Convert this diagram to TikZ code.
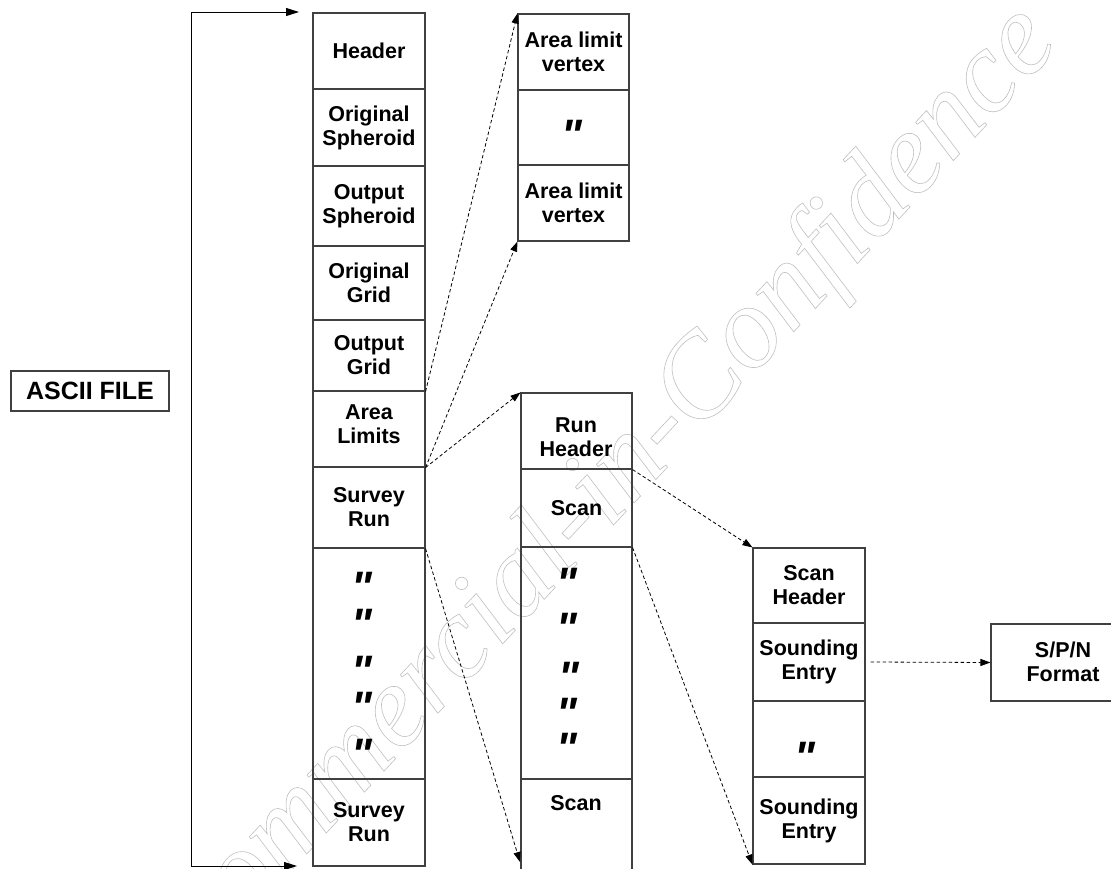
\documentclass[tikz,border=0pt]{standalone}
\usepackage{fontspec}
\setmainfont{Liberation Sans}
\newfontfamily\dittofont{Liberation Sans}
\newfontfamily\wmfont{Liberation Serif}
\usetikzlibrary{arrows.meta}
\tikzset{
  cellbox/.style={draw=black!75, line width=1.1pt, inner sep=0pt, align=center,
    font=\bfseries\fontsize{21.5}{24}\selectfont},
  lbl/.style={inner sep=0pt, align=center, font=\bfseries\fontsize{21.5}{24}\selectfont},
  dittomark/.style={inner sep=0pt, font=\dittofont\bfseries\itshape\fontsize{44}{44}\selectfont},
  dasharrow/.style={draw, line width=0.8pt, dash pattern=on 3.5pt off 2.5pt,
    -{Triangle[length=10pt,width=7pt]}},
  bracketline/.style={draw, line width=1pt,
    {Triangle[length=13pt,width=8pt]}-{Triangle[length=13pt,width=8pt]}},
  watermark/.style={inner sep=0pt, text=black!25, font=\wmfont\itshape\fontsize{117}{117}\selectfont}
}
% \mkcell{name}{x1}{y1}{x2}{y2}{text}
\newcommand\mkcell[6]{%
  \node[cellbox, minimum width={(#4-#2)*1pt}, minimum height={(#5-#3)*1pt}]
    (#1) at ({(#2+#4)/2},{(#3+#5)/2}) {#6};}
\begin{document}
\begin{tikzpicture}[x=1pt,y=-1pt]
\useasboundingbox (0,0) rectangle (1111,868);

% watermark
\node[watermark, rotate=47] (wm) at (605,492)
  {\special{pdf:literal direct 1 Tr 0.6 w}Commercial-in-Confidence\special{pdf:literal direct 0 Tr}};

% ASCII FILE
\node[cellbox, minimum width=158pt, minimum height=40pt,
  font=\bfseries\fontsize{25}{28}\selectfont] (ascii) at (90,391) {ASCII FILE};

% main column
\mkcell{header}{313}{13}{425}{89}{Header}
\mkcell{origsph}{313}{89}{425}{166}{Original\\Spheroid}
\mkcell{outsph}{313}{166}{425}{246}{Output\\Spheroid}
\mkcell{origgrid}{313}{246}{425}{320}{Original\\Grid}
\mkcell{outgrid}{313}{320}{425}{391}{Output\\Grid}
\mkcell{area}{313}{391}{425}{467}{}
\node[lbl] (areat) at (369,424) {Area\\Limits};
\mkcell{survey}{313}{467}{425}{548}{Survey\\Run}
\mkcell{mainditto}{313}{548}{425}{779}{}
\mkcell{surveyb}{313}{779}{425}{866}{Survey\\Run}
\node[dittomark] (md1) at (362,587) {"};
\node[dittomark] (md2) at (362,624) {"};
\node[dittomark] (md3) at (362,671) {"};
\node[dittomark] (md4) at (362,707) {"};
\node[dittomark] (md5) at (362,754) {"};

% area limit column
\mkcell{alv}{518}{14}{629}{90}{Area limit\\vertex}
\mkcell{alvd}{518}{90}{629}{165}{}
\mkcell{alvb}{518}{165}{629}{241}{Area limit\\vertex}
\node[dittomark] (ad1) at (572,135) {"};

% run column
\mkcell{runhdr}{521}{393}{632}{469}{}
\node[lbl] (runhdrt) at (576,437) {Run\\Header};
\mkcell{scan}{521}{469}{632}{547}{Scan}
\mkcell{runditto}{521}{547}{632}{779}{}
\mkcell{scanb}{521}{779}{632}{885}{}
\node[lbl] (scanbt) at (576,803) {Scan};
\node[dittomark] (rd1) at (567,583) {"};
\node[dittomark] (rd2) at (567,628) {"};
\node[dittomark] (rd3) at (569,677) {"};
\node[dittomark] (rd4) at (567,713) {"};
\node[dittomark] (rd5) at (567,748) {"};
\coordinate (runbot) at (520,862);

% scan column
\mkcell{scanhdr}{753}{548}{865}{623}{Scan\\Header}
\mkcell{sound}{753}{623}{865}{701}{Sounding\\Entry}
\mkcell{soundd}{753}{701}{865}{777}{}
\mkcell{soundb}{753}{777}{865}{864}{Sounding\\Entry}
\node[dittomark] (sd1) at (805,757) {"};

% S/P/N
\mkcell{spn}{991}{624}{1135}{701}{}
\node[lbl] (spnt) at (1063,662) {S/P/N\\Format};

% bracket
\coordinate (btip) at (297,866);
\coordinate (bcorner) at (191,866);
\coordinate (tcorner) at (191,12);
\coordinate (ttip) at (299,12);
\draw[bracketline] (btip) -- (bcorner) -- (tcorner) -- (ttip);

% dashed connectors
\draw[dasharrow] (outgrid.south east) -- (alv.north west);
\draw[dasharrow] (area.south east) -- (alvb.south west);
\draw[dasharrow] (area.south east) -- (runhdr.north west);
\draw[dasharrow] (survey.south east) -- (runbot);
\draw[dasharrow] (runhdr.south east) -- (scanhdr.north west);
\draw[dasharrow] (scan.south east) -- (soundb.south west);
\draw[dasharrow] ([xshift=5pt]sound.east) -- (spn.west);
\end{tikzpicture}
\end{document}
